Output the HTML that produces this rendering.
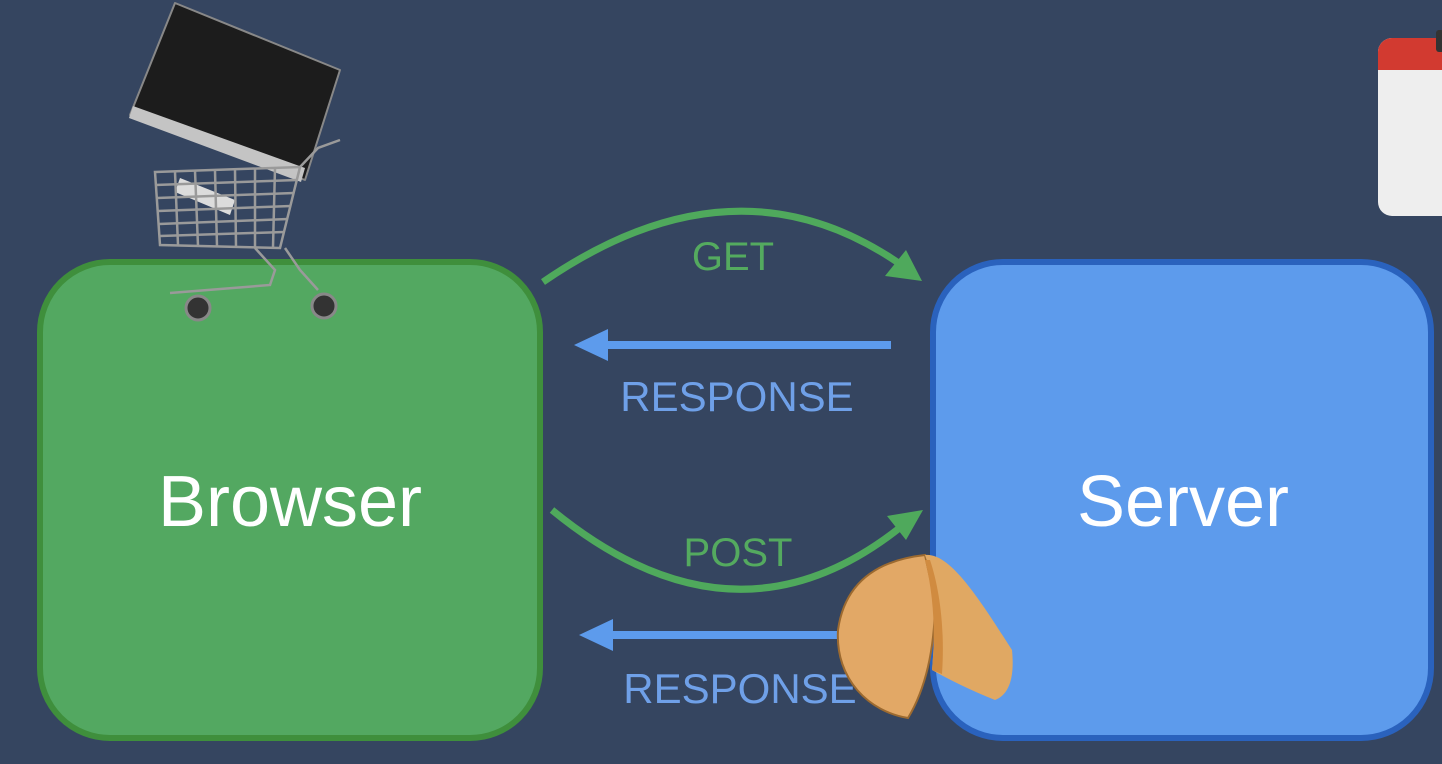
<!DOCTYPE html>
<html><head><meta charset="utf-8"><style>
html,body{margin:0;padding:0;background:#354560;}
svg{display:block}
text{font-family:"Liberation Sans",sans-serif}
</style></head><body>
<svg width="1442" height="764" viewBox="0 0 1442 764" xmlns="http://www.w3.org/2000/svg">
<rect width="1442" height="764" fill="#354560"/>
<!-- calendar -->
<rect x="1378" y="38" width="80" height="178" rx="14" fill="#eeeeee"/>
<path d="M1378 70 V52 a14 14 0 0 1 14 -14 H1442 V70 Z" fill="#d23a30"/>
<rect x="1436" y="30" width="8" height="22" rx="3" fill="#333"/>
<!-- boxes -->
<rect x="40" y="262" width="500" height="476" rx="70" fill="#53a861" stroke="#3f8f3c" stroke-width="6"/>
<rect x="933" y="262" width="498" height="476" rx="70" fill="#5d9bec" stroke="#2a62bd" stroke-width="6"/>
<text x="290" y="526" font-size="72" fill="#fff" text-anchor="middle">Browser</text>
<text x="1183" y="526" font-size="72" fill="#fff" text-anchor="middle">Server</text>
<!-- GET -->
<path d="M543 282 Q735 150 900 264" fill="none" stroke="#4fa95c" stroke-width="7"/>
<polygon points="922,281 885,276 906,250" fill="#4fa95c"/>
<text x="733" y="270" font-size="40" fill="#54aa5f" text-anchor="middle">GET</text>
<!-- response 1 -->
<line x1="600" y1="345" x2="891" y2="345" stroke="#5d9bec" stroke-width="8"/>
<polygon points="574,345 608,329 608,361" fill="#5d9bec"/>
<text x="737" y="411" font-size="42" fill="#6fa0e8" text-anchor="middle">RESPONSE</text>
<!-- POST -->
<path d="M552 510 Q735 660 902 526" fill="none" stroke="#4fa95c" stroke-width="7"/>
<polygon points="923,510 887,516 906,540" fill="#4fa95c"/>
<text x="738" y="566" font-size="40" fill="#54aa5f" text-anchor="middle">POST</text>
<!-- response 2 -->
<line x1="605" y1="635" x2="894" y2="635" stroke="#5d9bec" stroke-width="8"/>
<polygon points="579,635 613,619 613,651" fill="#5d9bec"/>
<text x="740" y="703" font-size="42" fill="#6fa0e8" text-anchor="middle">RESPONSE</text>
<!-- fortune cookie -->
<path d="M925 555 C880 560 845 580 838 630 C835 680 870 712 908 718 C925 690 935 650 935 600 Z" fill="#e2a866" stroke="#9c6a30" stroke-width="2"/>
<path d="M925 555 C950 552 980 600 1012 650 C1015 680 1008 695 995 700 C970 690 950 680 932 670 C935 630 938 590 925 555 Z" fill="#e0a863"/>
<path d="M925 560 C935 600 935 640 932 670 L942 674 C945 630 940 590 930 560 Z" fill="#d08b40"/>
<!-- monitor -->
<polygon points="180,178 235,200 230,215 175,192" fill="#dcdcdc"/>
<polygon points="175,3 340,70 305,180 130,115" fill="#1c1c1c" stroke="#888" stroke-width="2" stroke-linejoin="round"/>
<polygon points="133,106 305,168 301,182 129,118" fill="#c4c4c4"/>
<!-- cart -->
<g fill="none" stroke="#9a9a9a" stroke-width="2.5">
<path d="M155 172 L300 167 L280 248 L160 245 Z"/>
<path d="M155 185 L297 180 M157 198 L294 193 M158 211 L291 206 M159 224 L288 219 M160 236 L284 232"/>
<path d="M175 172 L178 245 M195 171 L198 246 M215 171 L217 246 M235 170 L236 247 M255 169 L255 247 M275 168 L273 247"/>
<path d="M300 167 L318 148 L340 140"/>
<path d="M255 248 L275 270 L270 285 L170 293 M285 248 L300 270 L318 290"/>
</g>
<circle cx="198" cy="308" r="12" fill="#333" stroke="#888" stroke-width="3"/>
<circle cx="324" cy="306" r="12" fill="#333" stroke="#888" stroke-width="3"/>
</svg>
</body></html>
